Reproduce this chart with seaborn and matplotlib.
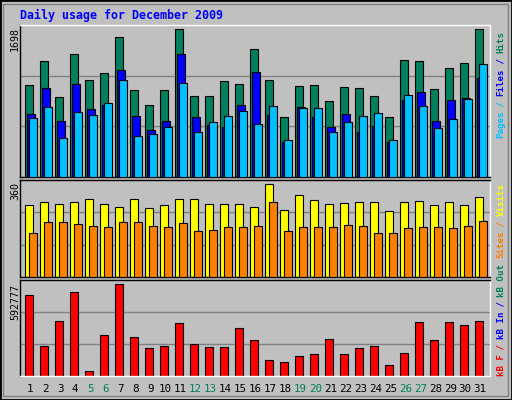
import numpy as np
import matplotlib
matplotlib.use("Agg")
import matplotlib.pyplot as plt
import seaborn as sns
from matplotlib.patches import Rectangle

days = list(range(1, 32))
weekend = [5, 6, 12, 13, 19, 20, 26, 27]
hits = [1053,1329,914,1410,1110,1191,1606,995,822,995,1698,926,926,1099,1064,1467,
        1110,684,1041,1053,868,1030,1018,926,684,1341,1329,1006,1249,1306,1698]
files = [718,1018,638,1064,776,822,1225,695,545,638,1410,684,592,569,822,1202,
         707,396,799,684,569,718,511,580,407,880,972,638,880,903,1133]
pages = [672,799,453,741,707,845,1110,465,499,569,1076,511,626,695,753,603,
         811,430,788,788,522,626,695,730,419,937,811,557,661,891,1295]
visits = [278,293,285,293,305,285,274,305,270,281,305,305,285,285,285,274,
          360,262,317,301,285,289,293,293,258,293,297,281,293,278,309]
sites = [171,215,215,207,199,195,215,215,199,195,211,179,183,195,195,199,
         293,179,195,195,195,203,199,171,171,191,195,195,191,199,219]
kbf = [521000,195000,358000,541000,32600,267000,592777,254000,182000,195000,345000,
       208000,189000,189000,313000,234000,104000,91000,130000,143000,241000,143000,
       182000,195000,72000,150000,352000,234000,352000,332000,358000]

sns.set_style("white")
plt.rcParams['font.family'] = ['DejaVu Sans Mono']
BG = "#C0C0C0"
W, H = 512, 400
SLOT = 15.0
fig = plt.figure(figsize=(W/100, H/100), dpi=100, facecolor=BG)

def axes_px(x0, y0, x1, y1):
    return fig.add_axes([x0/W, 1-y1/H, (x1-x0)/W, (y1-y0)/H])

x = np.arange(len(days))
EW = 0.8

def setup(ax, ymax):
    ax.set_facecolor(BG)
    ax.set_xlim(0, 470/SLOT)
    ax.set_ylim(0, ymax)
    for f in (1/3, 2/3):
        ax.axhline(ymax*f, color="#808080", lw=1, zorder=0)
    ax.set_xticks([]); ax.set_yticks([])
    for s in ax.spines.values():
        s.set_color("black"); s.set_linewidth(1)
    ax.spines['right'].set_color("white")

ax1 = axes_px(20, 25, 490, 177)
setup(ax1, 1744)
ax1.spines['top'].set_color("white")
ax1.bar(x+0.35, hits, width=0.49, align='edge', color="#00805C", edgecolor="black", lw=EW, zorder=2)
ax1.bar(x+0.485, files, width=0.49, align='edge', color="#0000FF", edgecolor="black", lw=EW, zorder=3)
ax1.bar(x+0.62, pages, width=0.49, align='edge', color="#00C0FF", edgecolor="black", lw=EW, zorder=4)

ax2 = axes_px(20, 180, 490, 277)
setup(ax2, 377)
ax2.bar(x+0.35, visits, width=0.54, align='edge', color="#FFFF00", edgecolor="black", lw=EW, zorder=2)
ax2.bar(x+0.62, sites, width=0.49, align='edge', color="#FF8000", edgecolor="black", lw=EW, zorder=3)

ax3 = axes_px(20, 280, 490, 376)
setup(ax3, 620500)
ax3.spines['bottom'].set_color("white")
ax3.bar(x+0.35, kbf, width=0.49, align='edge', color="#FF0000", edgecolor="black", lw=EW, zorder=2)

FS = 6.6
for d in days:
    c = "#00805C" if d in weekend else "black"
    fig.text((20 + (d-1+0.68)*SLOT)/W, 1-389/H, str(d), ha='center', va='center',
             fontsize=7.8, color=c)

fig.text(20/W, 1-15/H, "Daily usage for December 2009", fontsize=8.4,
         fontweight='bold', color="#0000FF", va='center', ha='left')

for txt, ytop in [("1698", 27), ("360", 182), ("592777", 284)]:
    fig.text(15/W, 1-ytop/H, txt, rotation=90, ha='center', va='top', fontsize=FS+0.6, color="black")

CH = 5.3
def vlabel(parts, ybottom):
    y = ybottom
    for t, c in parts:
        fig.text(501/W, 1-y/H, t, rotation=90, ha='center', va='bottom', fontsize=FS,
                 color=c, fontweight='bold')
        y -= CH*len(t)

vlabel([("Pages", "#00C0FF"), (" / ", "#00C0FF"), ("Files", "#0000FF"), (" / ", "#0000FF"), ("Hits", "#00805C")], 138)
vlabel([("Sites", "#FF8000"), (" / ", "#FF8000"), ("Visits", "#FFFF00")], 258)
vlabel([("kB F", "#FF0000"), (" / ", "#FF0000"), ("kB In", "#0000FF"), (" / ", "#0000FF"), ("kB Out", "#00805C")], 376)

fig.patches.append(Rectangle((0, 0), 1, 1, transform=fig.transFigure, fill=False,
                             edgecolor="black", lw=2, figure=fig))
fig.patches.append(Rectangle((3/W, 4/H), 1-7/W, 1-8/H, transform=fig.transFigure, fill=False,
                             edgecolor="#808080", lw=1, figure=fig))

fig.savefig("out.png", dpi=100, facecolor=BG)
